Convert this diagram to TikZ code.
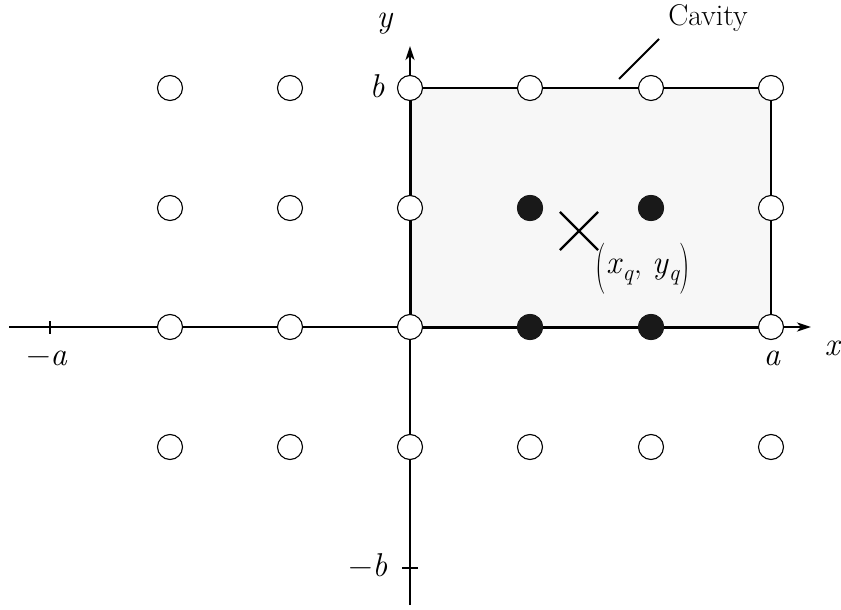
\documentclass[tikz,border=0pt]{standalone}
\usepackage{graphicx}
\usetikzlibrary{arrows.meta,shapes.misc}
\newcommand{\iv}[1]{\textit{#1}}
\newcommand{\bigpar}[1]{\raisebox{-0.26em}{\scalebox{0.9}[1.55]{#1}}}
\newcommand{\subq}{\raisebox{-0.22em}{\fontsize{23}{23}\selectfont\textit{q}}}
\begin{document}
\begin{tikzpicture}[x=1pt,y=-1pt,
  lbl/.style={font=\fontsize{33}{36}\selectfont, inner sep=0pt},
  txt/.style={font=\fontsize{30}{34}\selectfont, inner sep=0pt},
  site/.style={circle, draw, line width=1.1pt, fill=white, minimum size=25pt, inner sep=0pt},
  filled/.style={circle, fill=black!90, minimum size=26pt, inner sep=0pt},
  axis/.style={line width=2.4pt, -{Stealth[length=14pt,width=9pt,inset=4pt]}},
  edge/.style={line width=1.6pt},
  tick/.style={line width=2.4pt}]
\useasboundingbox (0,0) rectangle (841,610);
% cavity
\fill[black!3] (410,88) rectangle (771,327);
\coordinate (k00) at (410,327);
\coordinate (k10) at (771,327);
\coordinate (k11) at (771,88);
\coordinate (k01) at (410,88);
\draw[edge] (k01) -- (k11) -- (k10);
\draw[line width=3pt] (k01) -- (k00) -- (k10);
% axes
\coordinate (xs) at (9,327);
\coordinate (xe) at (811,327);
\coordinate (ys) at (410,605);
\coordinate (ye) at (410,46);
\draw[axis] (xs) -- (xe);
\draw[axis] (ys) -- (ye);
% ticks
\coordinate (ta1) at (50,321);
\coordinate (ta2) at (50,334);
\draw[tick] (ta1) -- (ta2);
\coordinate (tb1) at (402,568);
\coordinate (tb2) at (418,568);
\draw[tick] (tb1) -- (tb2);
% open sites
\foreach \i/\x in {1/170,2/290,3/410,4/530,5/651,6/771}{
  \foreach \j/\y in {1/88,2/208,3/327,4/447}{
    \node[site] (c\i\j) at (\x,\y) {};
  }
}
% filled sites
\node[filled] (f42) at (530,208) {};
\node[filled] (f52) at (651,208) {};
\node[filled] (f43) at (530,327) {};
\node[filled] (f53) at (651,327) {};
% charge position
\node[cross out, draw, line width=2.2pt, minimum size=36pt, inner sep=0pt] (q) at (579,231) {};
\node[lbl, anchor=base] (qlab) at (643,273) {\bigpar{(}\iv{x}\subq, \iv{y}\subq\bigpar{)}};
% labels
\node[lbl, anchor=base] (ly) at (385,28) {\iv{y}};
\node[lbl, anchor=base] (lb) at (377,98) {\iv{b}};
\node[lbl, anchor=base] (lx) at (833,355) {\iv{x}};
\node[lbl, anchor=base] (la) at (772,365) {\iv{a}};
\node[lbl, anchor=base] (lma) at (47,365) {−\iv{a}};
\node[lbl, anchor=base] (lmb) at (368,576) {−\iv{b}};
\node[txt, anchor=base] (cav) at (708,26) {Cavity};
% leader
\coordinate (l1) at (619,79);
\coordinate (l2) at (659,39);
\draw[line width=1.8pt] (l1) -- (l2);
\end{tikzpicture}
\end{document}
